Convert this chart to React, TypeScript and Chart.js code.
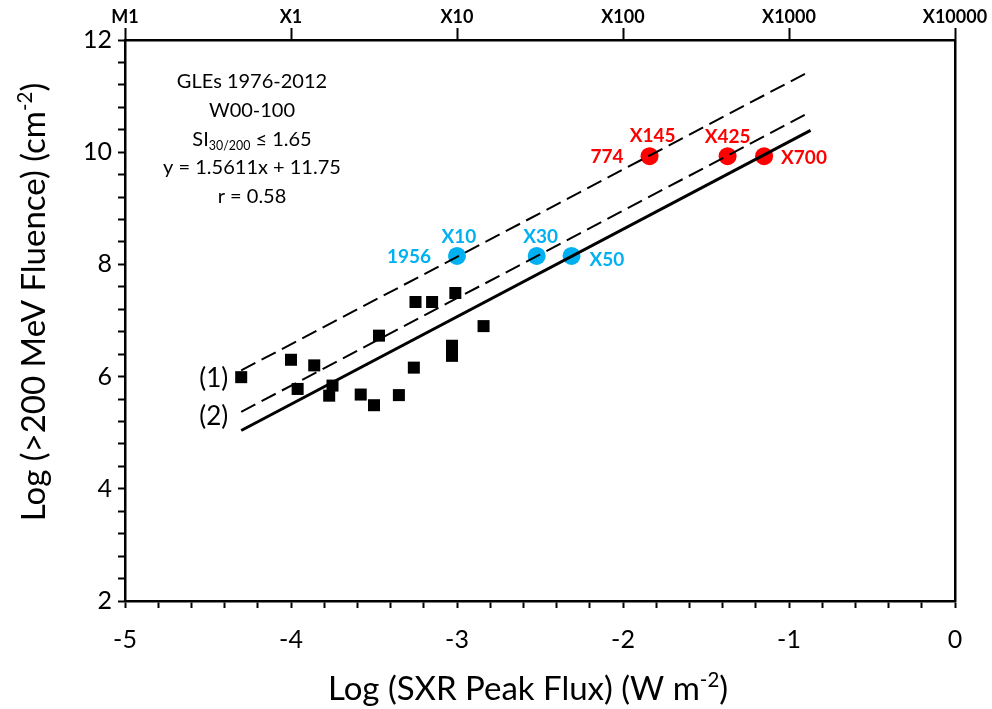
import React, { useEffect, useRef } from 'react';
import { Chart, registerables } from 'chart.js';

Chart.register(...registerables);

// ---------- data ----------
const squareX = [-4.30, -4.00, -3.86, -3.96, -3.75, -3.77, -3.58, -3.50, -3.47, -3.35, -3.26, -3.25, -3.15, -3.01, -3.03, -3.03, -2.84];
const squareY = [5.99, 6.30, 6.20, 5.78, 5.84, 5.66, 5.68, 5.49, 6.73, 5.67, 6.16, 7.33, 7.33, 7.49, 6.55, 6.37, 6.90];

const blueX = [-3.00, -2.52, -2.31];
const blueY = [8.15, 8.15, 8.15];
const blueLabels = ['X10', 'X30', 'X50'];
const blueYear = '1956';

const redX = [-1.84, -1.37, -1.15];
const redY = [9.93, 9.93, 9.93];
const redLabels = ['X145', 'X425', 'X700'];
const redYear = '774';

const lineX = [-4.30, -0.87];
const solidY = [5.04, 10.39];
const dash2Y = [5.37, 10.72];
const dash1Y = [6.11, 11.45];
const lineLabels = ['(1)', '(2)'];

const topTickLabels = ['M1', 'X1', 'X10', 'X100', 'X1000', 'X10000'];

const annotationLines = [
  [{ t: 'GLEs 1976-2012' }],
  [{ t: 'W00-100' }],
  [{ t: 'SI' }, { t: '30/200', sub: true }, { t: ' \u2264 1.65' }],
  [{ t: 'y = 1.5611x + 11.75' }],
  [{ t: 'r = 0.58' }],
];

const xTitle = [{ t: 'Log (SXR Peak Flux) (W m' }, { t: '-2', sup: true }, { t: ')' }];
const yTitle = [{ t: 'Log (>200 MeV Fluence) (cm' }, { t: '-2', sup: true }, { t: ')' }];

// ---------- styles ----------
const FONT = 'Lato, "Open Sans", sans-serif';
const BLUE = '#00B0F0';
const RED = '#FF0000';

type Seg = { t: string; sup?: boolean; sub?: boolean };

function drawRich(ctx: CanvasRenderingContext2D, segs: Seg[], x: number, yCenter: number, size: number, align: string, weight = 'normal') {
  const parts = segs.map((s) => {
    const fs = s.sup || s.sub ? size * 0.62 : size;
    ctx.font = `${weight} ${fs}px ${FONT}`;
    return { s, fs, w: ctx.measureText(s.t).width };
  });
  const total = parts.reduce((a, p) => a + p.w, 0);
  let cx = align === 'center' ? x - total / 2 : align === 'right' ? x - total : x;
  const base = yCenter + size * 0.36;
  ctx.textBaseline = 'alphabetic';
  ctx.textAlign = 'left';
  parts.forEach((p) => {
    ctx.font = `${weight} ${p.fs}px ${FONT}`;
    const dy = p.s.sup ? -size * 0.4 : p.s.sub ? size * 0.2 : 0;
    ctx.fillText(p.s.t, cx, base + dy);
    cx += p.w;
  });
}

const bluePlacement = [
  { dx: 2, dy: -19, align: 'center' },
  { dx: 4, dy: -19, align: 'center' },
  { dx: 18, dy: 4, align: 'left' },
];
const redPlacement = [
  { dx: 3, dy: -20, align: 'center' },
  { dx: 0, dy: -19, align: 'center' },
  { dx: 17, dy: 2, align: 'left' },
];
const yearPlacement = { dx: -26, dy: 1 };

const isInt = (v: number) => Math.abs(v - Math.round(v)) < 1e-6;

const decorPlugin = {
  id: 'decor',
  afterDatasetsDraw(chart: any) {
    const { ctx, chartArea } = chart;
    const xs = chart.scales.x;
    const ys = chart.scales.y;
    ctx.save();
    ctx.fillStyle = '#000';

    const drawLabels = (X: number[], Y: number[], L: string[], P: any[], color: string, year: string) => {
      ctx.fillStyle = color;
      ctx.font = `bold 19px ${FONT}`;
      ctx.textBaseline = 'middle';
      L.forEach((lab, i) => {
        const px = xs.getPixelForValue(X[i]);
        const py = ys.getPixelForValue(Y[i]);
        ctx.textAlign = P[i].align;
        ctx.fillText(lab, px + P[i].dx, py + P[i].dy);
      });
      const px0 = xs.getPixelForValue(X[0]);
      const py0 = ys.getPixelForValue(Y[0]);
      ctx.textAlign = 'right';
      ctx.fillText(year, px0 + yearPlacement.dx, py0 + yearPlacement.dy);
    };
    drawLabels(blueX, blueY, blueLabels, bluePlacement, BLUE, blueYear);
    drawLabels(redX, redY, redLabels, redPlacement, RED, redYear);

    // line labels
    ctx.fillStyle = '#000';
    ctx.font = `26px ${FONT}`;
    ctx.textAlign = 'right';
    ctx.textBaseline = 'middle';
    const l1x = xs.getPixelForValue(lineX[0]);
    ctx.fillText(lineLabels[0], l1x - 13, ys.getPixelForValue(dash1Y[0]) + 8);
    ctx.fillText(lineLabels[1], l1x - 13, ys.getPixelForValue(dash2Y[0]) + 5);

    // annotation block
    annotationLines.forEach((segs, i) => {
      drawRich(ctx, segs as Seg[], chartArea.left + 127, chartArea.top + 41 + i * 28.7, 20, 'center');
    });

    // axis titles
    drawRich(ctx, xTitle, 528, 688, 33, 'center');
    ctx.save();
    ctx.translate(33, 302);
    ctx.rotate(-Math.PI / 2);
    drawRich(ctx, yTitle, 0, 0, 33, 'center');
    ctx.restore();

    ctx.restore();
  },
};

const axisBase = {
  type: 'linear' as const,
  grid: { drawOnChartArea: false, color: '#000', tickColor: '#000', tickWidth: 2 },
  border: { color: '#000', width: 2.5 },
};

export default function App() {
  const ref = useRef<HTMLCanvasElement>(null);
  useEffect(() => {
    if (!ref.current) return;
    Chart.defaults.color = '#000';
    Chart.defaults.font.family = FONT;
    const pts = (X: number[], Y: number[]) => X.map((x, i) => ({ x, y: Y[i] }));
    const chart = new Chart(ref.current, {
      type: 'scatter',
      data: {
        datasets: [
          { data: pts(lineX, solidY), showLine: true, borderColor: '#000', borderWidth: 3, pointRadius: 0, order: 0 } as any,
          { data: pts(lineX, dash2Y), showLine: true, borderColor: '#000', borderWidth: 2, borderDash: [16, 7], pointRadius: 0, order: 0 } as any,
          { data: pts(lineX, dash1Y), showLine: true, borderColor: '#000', borderWidth: 2, borderDash: [16, 7], pointRadius: 0, order: 0 } as any,
          { data: pts(squareX, squareY), pointStyle: 'rect', pointRadius: 8.5, backgroundColor: '#000', borderColor: '#000', borderWidth: 0, order: 1 } as any,
          { data: pts(blueX, blueY), pointStyle: 'circle', pointRadius: 9, backgroundColor: BLUE, borderColor: BLUE, borderWidth: 0, order: 1 } as any,
          { data: pts(redX, redY), pointStyle: 'circle', pointRadius: 9, backgroundColor: RED, borderColor: RED, borderWidth: 0, order: 1 } as any,
        ],
      },
      options: {
        animation: false,
        responsive: false,
        devicePixelRatio: 1,
        layout: { padding: 0 },
        plugins: { legend: { display: false }, tooltip: { enabled: false } },
        scales: {
          x: {
            ...axisBase,
            position: 'bottom',
            min: -5,
            max: 0,
            grid: { ...axisBase.grid, tickLength: 7 },
            ticks: {
              stepSize: 0.2,
              maxTicksLimit: 100,
              autoSkip: false,
              maxRotation: 0,
              padding: 17,
              font: { size: 25, family: FONT },
              callback: (v: any) => (isInt(v) ? String(Math.round(v)) : ''),
            },
            afterFit: (s: any) => { s.height = 108; s.paddingLeft = 0; s.paddingRight = 0; },
          },
          x2: {
            ...axisBase,
            position: 'top',
            min: -5,
            max: 0,
            grid: { ...axisBase.grid, tickLength: 12 },
            ticks: {
              stepSize: 1,
              autoSkip: false,
              maxRotation: 0,
              padding: 0,
              font: { size: 18, weight: 'bold', family: FONT },
              callback: (v: any) => topTickLabels[Math.round(v) + 5] ?? '',
            },
            afterFit: (s: any) => { s.height = 40; s.paddingLeft = 0; s.paddingRight = 0; },
          },
          y: {
            ...axisBase,
            position: 'left',
            min: 2,
            max: 12,
            grid: { ...axisBase.grid, tickLength: 7 },
            ticks: {
              stepSize: 0.4,
              maxTicksLimit: 100,
              autoSkip: false,
              padding: 6,
              font: { size: 25, family: FONT },
              callback: (v: any) => (isInt(v) && Math.round(v) % 2 === 0 ? String(Math.round(v)) : ''),
            },
            afterFit: (s: any) => { s.width = 125; s.paddingTop = 0; s.paddingBottom = 0; },
          },
          y2: {
            ...axisBase,
            position: 'right',
            min: 2,
            max: 12,
            grid: { ...axisBase.grid, drawTicks: false, display: false },
            ticks: { display: false },
            afterFit: (s: any) => { s.width = 37; s.paddingTop = 0; s.paddingBottom = 0; },
          },
        },
      } as any,
      plugins: [decorPlugin],
    });
    return () => chart.destroy();
  }, []);
  return (
    <canvas
      ref={ref}
      width={992}
      height={709}
      style={{ display: 'block', position: 'absolute', left: 0, top: 0 }}
    />
  );
}
